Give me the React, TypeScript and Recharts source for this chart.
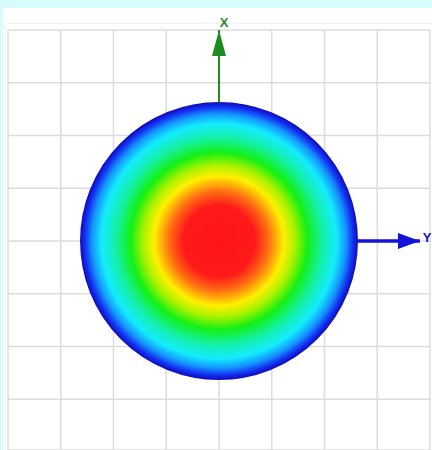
import React from 'react';
import {
  ScatterChart,
  Scatter,
  XAxis,
  YAxis,
  CartesianGrid,
  ReferenceArea,
} from 'recharts';

// grid ticks (one unit per grid cell)
const xTicks = [-4, -3, -2, -1, 0, 1, 2, 3, 4];
const yTicks = [-3, -2, -1, 0, 1, 2, 3, 4];

// the disc
const discRadius = 2.62;

// axis arrows: tail on the disc edge, tip carries the label
const xArrow = [
  { x: 0, y: 2.62 },
  { x: 0, y: 4, label: 'X' },
];
const yArrow = [
  { x: 2.62, y: 0 },
  { x: 3.81, y: 0, label: 'Y' },
];

// heat colours from centre to rim
const heatStops: [number, string][] = [
  [0, '#ff1414'],
  [0.26, '#ff1a1a'],
  [0.36, '#ff6e12'],
  [0.47, '#fff000'],
  [0.55, '#a8f200'],
  [0.64, '#14f014'],
  [0.75, '#14f0a8'],
  [0.85, '#14ecff'],
  [0.92, '#1494ff'],
  [0.97, '#1430f0'],
  [1, '#0c12c8'],
];

const Disc = (props: any) => {
  const { x, y, width, height } = props;
  return (
    <ellipse
      cx={x + width / 2}
      cy={y + height / 2}
      rx={width / 2}
      ry={height / 2}
      fill="url(#heat)"
      stroke="#1212c0"
      strokeWidth={1.5}
    />
  );
};

const UpTip = (props: any) => {
  const { cx, cy, payload } = props;
  if (!payload.label) return <g />;
  return (
    <g>
      <polygon
        points={`${cx},${cy} ${cx - 7},${cy + 26} ${cx + 7},${cy + 26}`}
        fill="#1e8c1e"
      />
      <text
        x={cx + 5}
        y={cy - 3}
        textAnchor="middle"
        fontFamily="Liberation Sans, Arial, sans-serif"
        fontWeight="bold"
        fontSize={13}
        fill="#2a8a2a"
      >
        {payload.label}
      </text>
    </g>
  );
};

const RightTip = (props: any) => {
  const { cx, cy, payload } = props;
  if (!payload.label) return <g />;
  return (
    <g>
      <polygon
        points={`${cx},${cy} ${cx - 22},${cy - 8} ${cx - 22},${cy + 8}`}
        fill="#1414d8"
      />
      <text
        x={cx + 7}
        y={cy + 1}
        textAnchor="middle"
        fontFamily="Liberation Sans, Arial, sans-serif"
        fontWeight="bold"
        fontSize={13}
        fill="#1414c8"
      >
        {payload.label}
      </text>
    </g>
  );
};

export default function App() {
  return (
    <div
      style={{
        position: 'absolute',
        left: 0,
        top: 0,
        width: 432,
        height: 450,
        background: '#d6fcfc',
        overflow: 'hidden',
      }}
    >
      <div
        style={{
          position: 'absolute',
          left: 3,
          top: 8,
          width: 429,
          height: 442,
          background: '#ffffff',
        }}
      />
      <div
        style={{
          position: 'absolute',
          left: 5,
          top: 23,
          width: 430,
          height: 430,
          borderLeft: '1px solid #f2f2f2',
          borderTop: '1px solid #f2f2f2',
        }}
      />
      <div style={{ position: 'absolute', left: 0, top: 0 }}>
        <ScatterChart
          width={432}
          height={450}
          margin={{ top: 30, right: 2, bottom: 0, left: 8 }}
        >
          <defs>
            <radialGradient id="heat" cx="50%" cy="50%" r="50%">
              {heatStops.map(([o, c]) => (
                <stop key={o} offset={`${o * 100}%`} stopColor={c} />
              ))}
            </radialGradient>
          </defs>
          <CartesianGrid stroke="#dcdcdc" strokeWidth={1.5} />
          <XAxis
            type="number"
            dataKey="x"
            domain={[-4, 4]}
            ticks={xTicks}
            hide
          />
          <YAxis
            type="number"
            dataKey="y"
            domain={[-3.962, 4]}
            ticks={yTicks}
            hide
          />
          <ReferenceArea
            x1={-discRadius}
            x2={discRadius}
            y1={-discRadius}
            y2={discRadius}
            shape={<Disc />}
          />
          <Scatter
            data={xArrow}
            line={{ stroke: '#1e8c1e', strokeWidth: 2 }}
            shape={<UpTip />}
            isAnimationActive={false}
          />
          <Scatter
            data={yArrow}
            line={{ stroke: '#1414d8', strokeWidth: 3.5 }}
            shape={<RightTip />}
            isAnimationActive={false}
          />
        </ScatterChart>
      </div>
    </div>
  );
}
